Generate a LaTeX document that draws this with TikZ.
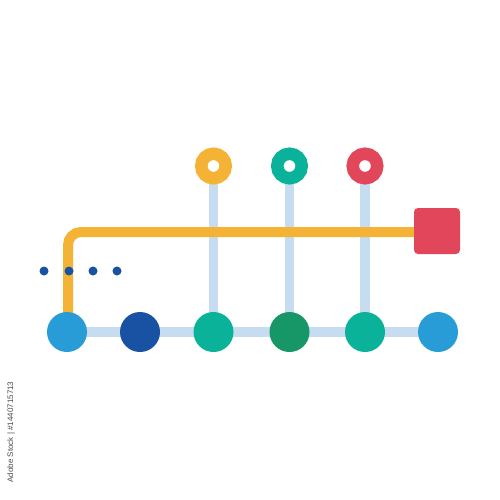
\documentclass[tikz,border=0pt]{standalone}
\usepackage{fontspec}
\setmainfont{Liberation Sans}
\begin{document}
\begin{tikzpicture}[x=1pt,y=-1pt,
  link/.style={line width=9.5pt,draw=linkblue},
  orangeline/.style={line width=10pt,draw=ringorange,rounded corners=13pt},
  dotc/.style={circle,fill=darkblue,minimum size=40pt,inner sep=0pt},
  smalldot/.style={circle,fill=darkblue,minimum size=9pt,inner sep=0pt},
  ring/.style={circle,draw=#1,line width=12.5pt,minimum size=24.5pt,inner sep=0pt,fill=white},
  sq/.style={rectangle,rounded corners=4pt,fill=sqred,minimum width=46pt,minimum height=46pt,inner sep=0pt},
  wm/.style={font=\fontsize{8}{9}\selectfont,text=gray!60!black,rotate=90}
]
\definecolor{linkblue}{HTML}{C5DCF1}
\definecolor{ringorange}{HTML}{F5B335}
\definecolor{darkblue}{HTML}{1A52A3}
\definecolor{lightblue}{HTML}{289CD6}
\definecolor{tealc}{HTML}{0BB29A}
\definecolor{greenc}{HTML}{179767}
\definecolor{sqred}{HTML}{E2465A}
\useasboundingbox[fill=white] (0,0) rectangle (500,500);
% coordinates
\coordinate (p1) at (67,332);
\coordinate (p2) at (140,332);
\coordinate (p3) at (213.5,332);
\coordinate (p4) at (289.5,332);
\coordinate (p5) at (365,332);
\coordinate (p6) at (438,332);
\coordinate (r1) at (213.5,166);
\coordinate (r2) at (289.5,166);
\coordinate (r3) at (365,166);
% connectors
\draw[link] (p1) -- (p6);
\draw[link] (r1) -- (p3);
\draw[link] (r2) -- (p4);
\draw[link] (r3) -- (p5);
\node[sq] (sq) at (437,231) {};
\draw[orangeline] (68,332) -- (68,232) -- (sq.west |- 0,232);
% rings
\node[ring=ringorange] (ra) at (r1) {};
\node[ring=tealc] (rb) at (r2) {};
\node[ring=sqred] (rc) at (r3) {};
% bottom circles
\node[dotc,fill=lightblue] (c1) at (p1) {};
\node[dotc,fill=darkblue] (c2) at (p2) {};
\node[dotc,fill=tealc] (c3) at (p3) {};
\node[dotc,fill=greenc] (c4) at (p4) {};
\node[dotc,fill=tealc] (c5) at (p5) {};
\node[dotc,fill=lightblue] (c6) at (p6) {};
% small dots
\node[smalldot] (d1) at (44,271) {};
\node[smalldot] (d2) at (69,271) {};
\node[smalldot] (d3) at (93,271) {};
\node[smalldot] (d4) at (117,271) {};
% watermark
\node[wm] (w) at (11,432) {Adobe Stock | \#1440715713};
\end{tikzpicture}
\end{document}
